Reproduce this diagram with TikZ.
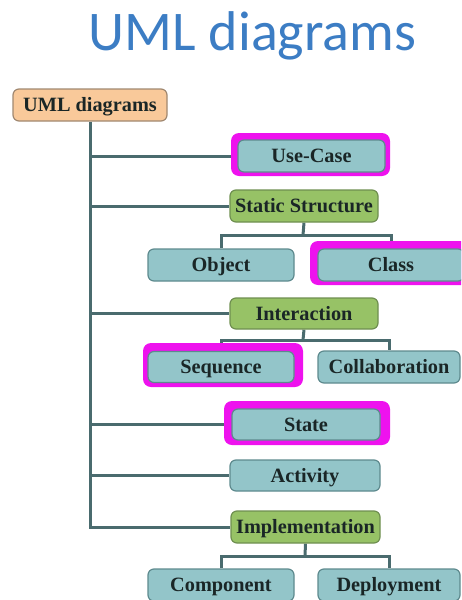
\documentclass[tikz,border=0pt]{standalone}
\usepackage{fontspec}
\usetikzlibrary{backgrounds}
\setmainfont{Liberation Serif}
\newfontfamily\titlefont{Carlito}
\begin{document}
\definecolor{titleblue}{HTML}{3C7DC4}
\definecolor{linecol}{HTML}{4A6B6E}
\definecolor{tealfill}{HTML}{93C5C9}
\definecolor{tealedge}{HTML}{5E8A8E}
\definecolor{greenfill}{HTML}{97C266}
\definecolor{greenedge}{HTML}{6F8F50}
\definecolor{peachfill}{HTML}{F9C99A}
\definecolor{peachedge}{HTML}{A08870}
\definecolor{hilite}{HTML}{EE12EE}
\definecolor{labelcol}{HTML}{1A2626}
\begin{tikzpicture}[x=1pt,y=-1pt,
  box/.style={rounded corners=6pt, line width=1.2pt, inner sep=0pt,
    text height=13.5pt, text depth=0pt,
    font=\fontsize{20.3}{21}\selectfont\bfseries, text=labelcol},
  leaf/.style={box, fill=tealfill, draw=tealedge},
  group/.style={box, fill=greenfill, draw=greenedge},
  rootbox/.style={box, fill=peachfill, draw=peachedge},
  frame/.style={rounded corners=8pt, fill=hilite, draw=none, inner sep=0pt},
  link/.style={draw=linecol, line width=3pt}]
\useasboundingbox (0,0) rectangle (461,600);
\clip (0,0) rectangle (461,600);

% heading
\node[anchor=base, text=titleblue, font=\titlefont\fontsize{56}{60}\selectfont]
  (title) at (252.5,50) {UML diagrams};

% highlight frames behind the selected diagram kinds
\node[frame, minimum width=159pt, minimum height=43pt] (ucframe)  at (310.5,154.5) {};
\node[frame, minimum width=162pt, minimum height=44pt] (clframe)  at (391,263) {};
\node[frame, minimum width=160pt, minimum height=44pt] (sqframe)  at (223,365) {};
\node[frame, minimum width=166pt, minimum height=44pt] (stframe)  at (307,423) {};

% boxes
\node[rootbox, minimum width=154pt, minimum height=32pt] (root) at (90,105) {UML diagrams};
\node[leaf,  minimum width=147pt, minimum height=32pt] (uc)   at (311.5,156) {Use-Case};
\node[group, minimum width=148pt, minimum height=32pt] (stat) at (304,206) {Static Structure};
\node[leaf,  minimum width=146pt, minimum height=32pt] (obj)  at (221,265) {Object};
\node[leaf,  minimum width=146pt, minimum height=32pt] (cls)  at (391,265) {Class};
\node[group, minimum width=148pt, minimum height=31pt] (inter) at (304,313.5) {Interaction};
\node[leaf,  minimum width=146pt, minimum height=31pt] (seq)  at (221,367) {Sequence};
\node[leaf,  minimum width=142pt, minimum height=32pt] (coll) at (389,367) {Collaboration};
\node[leaf,  minimum width=148pt, minimum height=31pt] (state) at (306,424.5) {State};
\node[leaf,  minimum width=150pt, minimum height=31pt] (act)  at (305,475.5) {Activity};
\node[group, minimum width=149pt, minimum height=32pt] (impl) at (305.5,527) {Implementation};
\node[leaf,  minimum width=146pt, minimum height=32pt] (comp) at (221,585) {Component};
\node[leaf,  minimum width=142pt, minimum height=32pt] (depl) at (389,585) {Deployment};

% junction points of the sub-trees
\coordinate (sj) at (303,235);
\coordinate (ij) at (303,340);
\coordinate (mj) at (305,556);

% connectors, drawn underneath the boxes and frames
\begin{scope}[on background layer]
  % main trunk and its branches
  \draw[link] (root.south) -- (root.south |- impl.west) -- (impl.west);
  \draw[link] (root.south |- uc.west) -- (uc.west);
  \draw[link] (root.south |- stat.west) -- (stat.west);
  \draw[link] (root.south |- inter.west) -- (inter.west);
  \draw[link] (root.south |- state.west) -- (state.west);
  \draw[link] (root.south |- act.west) -- (act.west);
  % static structure sub-tree
  \draw[link] (stat.south) -- (sj);
  \draw[link] (obj.north) |- (sj) -| (cls.north);
  % interaction sub-tree
  \draw[link] (inter.south) -- (ij);
  \draw[link] (seq.north) |- (ij) -| (coll.north);
  % implementation sub-tree
  \draw[link] (impl.south) -- (mj);
  \draw[link] (comp.north) |- (mj) -| (depl.north);
\end{scope}
\end{tikzpicture}
\end{document}
